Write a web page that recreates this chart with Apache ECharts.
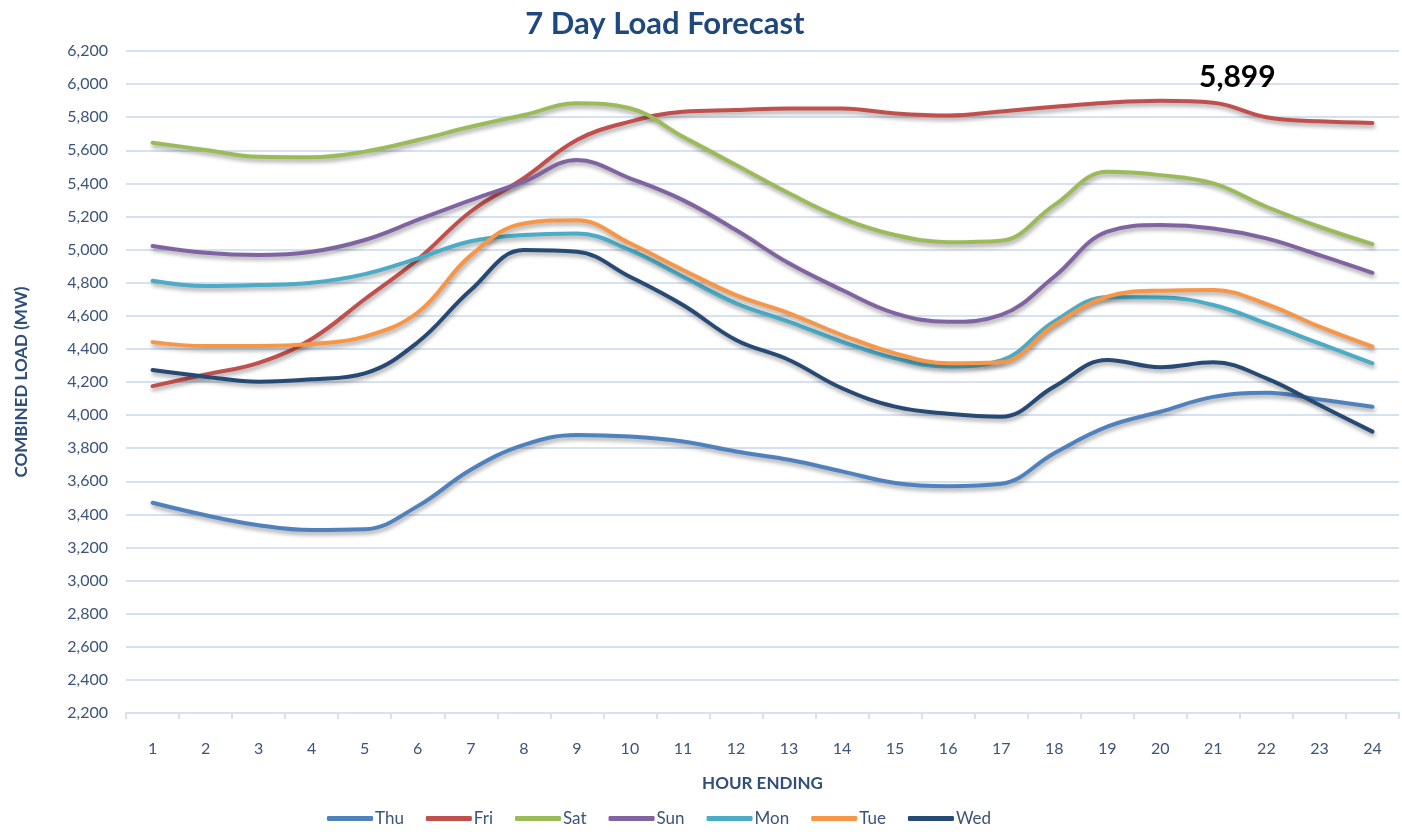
<!DOCTYPE html>
<html>
<head>
<meta charset="utf-8">
<title>7 Day Load Forecast</title>
<script src="https://cdn.jsdelivr.net/npm/echarts@6/dist/echarts.min.js"></script>
<style>
  html, body { margin: 0; padding: 0; background: #fff; }
  #main { width: 1402px; height: 837px; }
</style>
</head>
<body>
<div id="main"></div>
<script>
// hours on the x axis
var hours = ['1','2','3','4','5','6','7','8','9','10','11','12','13','14','15','16','17','18','19','20','21','22','23','24'];
var dayNames = ['Thu', 'Fri', 'Sat', 'Sun', 'Mon', 'Tue', 'Wed'];
var dayColors = ['#4F81BD', '#C0504D', '#9BBB59', '#8064A2', '#4BACC6', '#F79646', '#264A73'];

// load per hour (MW)
var thu = [3470, 3395, 3335, 3305, 3310, 3450, 3670, 3820, 3880, 3870, 3840, 3780, 3730, 3660, 3590, 3570, 3585, 3770, 3930, 4020, 4110, 4135, 4095, 4050];
var fri = [4175, 4245, 4315, 4460, 4700, 4940, 5230, 5431, 5662, 5773, 5833, 5843, 5853, 5853, 5823, 5810, 5835, 5863, 5887, 5899, 5887, 5800, 5775, 5765];
var sat = [5646, 5602, 5561, 5558, 5592, 5662, 5742, 5813, 5884, 5854, 5682, 5511, 5340, 5189, 5088, 5045, 5054, 5269, 5470, 5450, 5400, 5259, 5138, 5033];
var sun = [5022, 4981, 4967, 4987, 5058, 5179, 5299, 5410, 5541, 5431, 5299, 5118, 4917, 4756, 4615, 4564, 4605, 4836, 5108, 5148, 5128, 5068, 4967, 4860];
var mon = [4812, 4780, 4786, 4800, 4852, 4947, 5050, 5088, 5098, 4997, 4836, 4675, 4564, 4443, 4343, 4293, 4330, 4565, 4712, 4711, 4665, 4554, 4433, 4313];
var tue = [4441, 4417, 4417, 4429, 4474, 4620, 4965, 5158, 5178, 5038, 4877, 4725, 4615, 4484, 4373, 4313, 4320, 4545, 4715, 4752, 4756, 4671, 4534, 4413];
var wed = [4272, 4232, 4202, 4216, 4252, 4440, 4756, 4997, 4987, 4836, 4665, 4454, 4333, 4162, 4051, 4008, 3990, 4172, 4333, 4289, 4319, 4222, 4061, 3900];

var yMin = 2200, yMax = 6200, yStep = 200;

var allDays = [thu, fri, sat, sun, mon, tue, wed];
var fontName = 'Lato, "Liberation Sans", sans-serif';
var axisColor = '#3B5478';
var gridColor = '#D6E1F1';

function makeSeries(i) {
  var s = {
    name: dayNames[i],
    type: 'line',
    data: allDays[i],
    smooth: 0.4,
    showSymbol: false,
    symbol: 'none',
    color: dayColors[i],
    lineStyle: {
      width: 4,
      cap: 'round',
      join: 'round',
      color: dayColors[i],
      shadowColor: 'rgba(0,0,0,0.35)',
      shadowBlur: 4,
      shadowOffsetX: 1,
      shadowOffsetY: 3
    }
  };
  // peak of the week is labelled on Fri
  if (dayNames[i] === 'Fri') {
    s.markPoint = {
      symbol: 'circle',
      symbolSize: 1,
      itemStyle: { color: 'rgba(0,0,0,0)' },
      data: [{ type: 'max' }],
      label: {
        show: true,
        color: '#000',
        fontFamily: fontName,
        fontSize: 30,
        fontWeight: 'bold',
        offset: [77, -23],
        formatter: function (p) { return p.value.toLocaleString('en-US'); }
      }
    };
  }
  return s;
}

var seriesList = [];
for (var i = 0; i < dayNames.length; i++) {
  seriesList.push(makeSeries(i));
}

var chart = echarts.init(document.getElementById('main'), null, { renderer: 'canvas' });

var option = {
  animation: false,
  backgroundColor: '#fff',
  textStyle: { fontFamily: fontName },
  title: {
    text: '7 Day Load Forecast',
    left: 660,
    textAlign: 'center',
    top: 3,
    textStyle: {
      color: '#1F497D',
      fontFamily: fontName,
      fontSize: 31,
      fontWeight: 'bold'
    }
  },
  legend: {
    data: dayNames,
    bottom: 5,
    left: 322,
    icon: 'roundRect',
    itemWidth: 46,
    itemHeight: 5,
    itemGap: 22,
    textStyle: { color: axisColor, fontSize: 17, fontFamily: fontName, padding: [0, 0, 0, -3] }
  },
  grid: {
    left: 126,
    right: 3,
    top: 51,
    bottom: 124
  },
  xAxis: {
    type: 'category',
    data: hours,
    boundaryGap: true,
    name: 'HOUR ENDING',
    nameLocation: 'middle',
    nameGap: 62,
    nameTextStyle: { color: '#2F4E7A', fontSize: 17, fontWeight: 'bold', fontFamily: fontName },
    axisLine: { show: true, lineStyle: { color: gridColor, width: 2 } },
    axisTick: { show: true, length: 6, alignWithLabel: false, lineStyle: { color: gridColor, width: 2 } },
    axisLabel: { color: axisColor, fontSize: 16, margin: 28, fontFamily: fontName },
    splitLine: { show: false }
  },
  yAxis: {
    type: 'value',
    min: yMin,
    max: yMax,
    interval: yStep,
    name: 'COMBINED LOAD (MW)',
    nameLocation: 'middle',
    nameGap: 96,
    nameRotate: 90,
    nameTextStyle: { color: '#2F4E7A', fontSize: 17, fontWeight: 'bold', fontFamily: fontName },
    axisLine: { show: false },
    axisTick: { show: false },
    axisLabel: {
      color: axisColor,
      fontSize: 16,
      margin: 18,
      fontFamily: fontName,
      formatter: function (v) { return v.toLocaleString('en-US'); }
    },
    splitLine: { show: true, lineStyle: { color: gridColor, width: 2 } }
  },
  series: seriesList
};

chart.setOption(option);
</script>
</body>
</html>
